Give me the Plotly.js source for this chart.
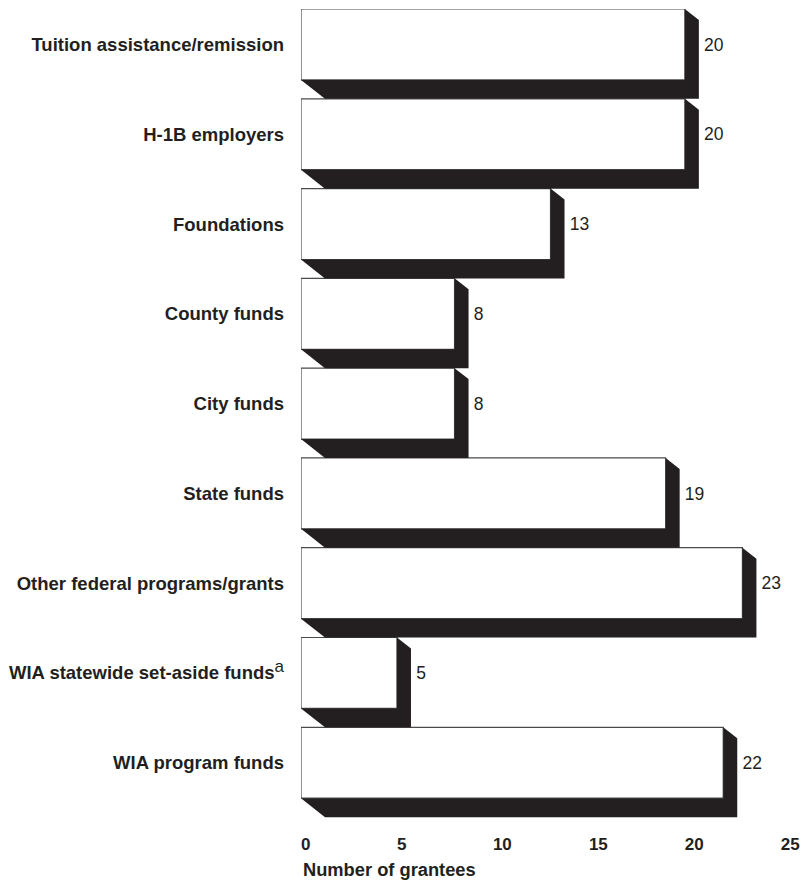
<!DOCTYPE html>
<html>
<head>
<meta charset="utf-8">
<script src="https://cdn.plot.ly/plotly-3.0.1.min.js"></script>
<style>html,body{margin:0;padding:0;background:#fff;}#chart{width:804px;height:886px;}</style>
</head>
<body>
<div id="chart"></div>
<script>
// ---- data ----
var categories = [
  "Tuition assistance/remission",
  "H-1B employers",
  "Foundations",
  "County funds",
  "City funds",
  "State funds",
  "Other federal programs/grants",
  "WIA statewide set-aside funds",
  "WIA program funds"
];
var footnoteMarks = ["", "", "", "", "", "", "", "a", ""];
var grantees = [20, 20, 13, 8, 8, 19, 23, 5, 22];
var xTicks = [0, 5, 10, 15, 20, 25];
var xTitle = "Number of grantees";

// ---- style / geometry (in axis units) ----
var FONT = "Liberation Sans, Arial, Helvetica, sans-serif";
var INK = "#231f20";
var faceH = 0.79;    // front face thickness (category units)
var depthX = 0.73;   // extrusion to the right (value units)
var depthY = 0.211;  // extrusion downward (category units)
var chamTop = 0.122; // top-right chamfer drop
var chamLeft = 1.25; // bottom-left chamfer run

var pos = categories.map(function (_, i) { return i; });
var traces = [];

// shadows (extruded sides) built from the values
grantees.forEach(function (v, i) {
  var top = i - faceH / 2, bot = i + faceH / 2;
  traces.push({
    type: "scatter", mode: "lines", fill: "toself",
    x: [v, v + depthX, v + depthX, chamLeft, 0, v, v],
    y: [top, top + chamTop, bot + depthY, bot + depthY, bot, bot, top],
    fillcolor: INK, line: { width: 0, color: INK },
    hoverinfo: "skip", showlegend: false
  });
});

// front faces
traces.push({
  type: "bar", orientation: "h",
  x: grantees, y: pos, width: faceH,
  marker: { color: "#ffffff", line: { color: "#4a4a4a", width: 1.2 } },
  showlegend: false, hoverinfo: "x+y"
});

// value labels
traces.push({
  type: "scatter", mode: "text",
  x: grantees.map(function (v) { return v + depthX + 0.27; }),
  y: pos.map(function (p) { return p + 0.02; }),
  text: grantees.map(String),
  textposition: "middle right",
  textfont: { family: FONT, size: 17.5, color: INK },
  cliponaxis: false, hoverinfo: "skip", showlegend: false
});

var catText = categories.map(function (c, i) {
  var s = "<b>" + c + "</b>";
  if (footnoteMarks[i]) {
    s += "<sup><span style=\"font-size:17px\">" + footnoteMarks[i] + "</span></sup>";
  }
  return s;
});

var layout = {
  width: 804, height: 886,
  margin: { l: 301, r: 4, t: 9, b: 64 },
  paper_bgcolor: "#ffffff", plot_bgcolor: "#ffffff",
  showlegend: false,
  bargap: 0,
  xaxis: {
    range: [0, 26], tickvals: xTicks,
    ticktext: xTicks.map(function (t) { return "<b>" + t + "</b>"; }),
    ticklabelposition: "outside right",
    showgrid: false, zeroline: false, showline: false, ticks: "",
    ticklabelstandoff: 10,
    tickfont: { family: FONT, size: 17, color: INK },
    fixedrange: true
  },
  yaxis: {
    range: [8.66, -0.395],
    tickvals: pos, ticktext: catText,
    showgrid: false, zeroline: false, showline: false, ticks: "",
    ticklabelstandoff: 16,
    tickfont: { family: FONT, size: 18.5, color: INK },
    fixedrange: true
  },
  annotations: [{
    xref: "paper", yref: "paper", x: 0, y: -0.059,
    xanchor: "left", yanchor: "middle", showarrow: false,
    text: "<b>" + xTitle + "</b>",
    font: { family: FONT, size: 18.3, color: INK }
  }]
};

Plotly.newPlot("chart", traces, layout, { displayModeBar: false, staticPlot: true });
</script>
</body>
</html>
